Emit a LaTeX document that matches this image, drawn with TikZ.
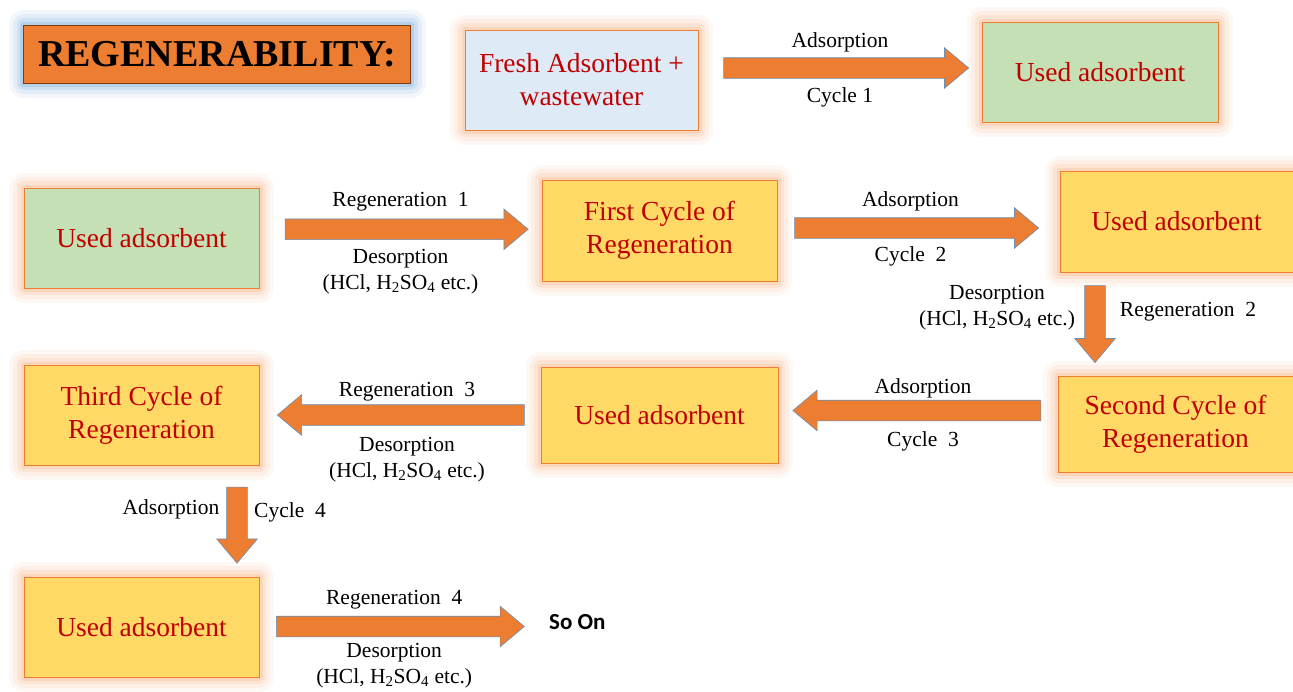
\documentclass[tikz,border=0pt]{standalone}
\usepackage{fontspec}
\setmainfont{Liberation Serif}
\newfontfamily\soonfont{Carlito}
\usetikzlibrary{shapes.arrows, positioning}

\definecolor{arrowfill}{HTML}{ED7D31}
\definecolor{arrowline}{HTML}{6A8FB5}
\definecolor{boxline}{HTML}{ED7D31}
\definecolor{gloworange}{HTML}{F7A66E}
\definecolor{glowblue}{HTML}{5B9BD5}
\definecolor{txtred}{HTML}{C00000}
\definecolor{freshfill}{HTML}{DEEBF7}
\definecolor{usedfill}{HTML}{C5E0B4}
\definecolor{cyclefill}{HTML}{FFD966}
\definecolor{titleline}{HTML}{843C0C}

\begin{document}
\begin{tikzpicture}[
    x=1pt, y=-1pt,
    glow/.style = {preaction={draw=#1, line width=30pt, opacity=0.07, line join=round},
                   preaction={draw=#1, line width=22pt, opacity=0.10, line join=round},
                   preaction={draw=#1, line width=14pt, opacity=0.15, line join=round},
                   preaction={draw=#1, line width=7pt, opacity=0.22, line join=round}},
    box/.style = {rectangle, draw=boxline, line width=0.8pt, glow=gloworange, text=txtred,
                  align=center, font=\fontsize{27.5}{33}\selectfont,
                  minimum width=235pt, minimum height=100pt, inner sep=2pt},
    titlebox/.style = {rectangle, draw=titleline, line width=0.8pt, fill=arrowfill, glow=glowblue,
                       font=\fontsize{38}{40}\selectfont\bfseries,
                       minimum width=387pt, minimum height=58pt},
    barrow/.style = {single arrow, draw=arrowline, line width=0.6pt, fill=arrowfill,
                     single arrow head extend=10pt, single arrow tip angle=80,
                     inner xsep=0pt, inner ysep=10pt, outer sep=0pt},
    lbl/.style = {inner sep=0pt, align=center, font=\fontsize{21.5}{26}\selectfont}
]
\path[use as bounding box, fill=white] (0,0) rectangle (1293,691);

% boxes
\node[titlebox] (title) at (217,54) {REGENERABILITY:};
\node[box, fill=freshfill, minimum width=233pt] (fresh) at (581.5,80) {Fresh Adsorbent +\\wastewater};
\node[box, fill=usedfill, minimum width=236pt] (usedA) at (1100,72) {Used adsorbent};
\node[box, fill=usedfill] (usedB) at (141.5,238) {Used adsorbent};
\node[box, fill=cyclefill, minimum height=101pt] (cycA) at (659.5,230.5) {First Cycle of\\Regeneration};
\node[box, fill=cyclefill, minimum width=233pt, minimum height=101pt] (usedC) at (1176.5,221.5) {Used adsorbent};
\node[box, fill=cyclefill, minimum height=96pt] (cycB) at (1175.5,424) {Second Cycle of\\Regeneration};
\node[box, fill=cyclefill, minimum width=237pt, minimum height=96pt] (usedD) at (659.5,415) {Used adsorbent};
\node[box, fill=cyclefill] (cycC) at (141.5,415) {Third Cycle of\\Regeneration};
\node[box, fill=cyclefill] (usedE) at (141.5,627) {Used adsorbent};
\node[anchor=west, inner sep=0pt, font=\soonfont\bfseries\fontsize{23}{26}\selectfont] (soon) at (549,622) {So On};

% block arrows
\path (fresh.east) -- (usedA.west) node[barrow, midway, yshift=8pt, minimum height=245pt] (arA) {};
\path (usedB.east) -- (cycA.west) node[barrow, midway, yshift=5pt, minimum height=243pt] (arB) {};
\path (cycA.east) -- (usedC.west) node[barrow, midway, xshift=-8pt, yshift=-2pt, minimum height=244pt] (arC) {};
\path ([xshift=-81.5pt]usedC.south) -- ([xshift=-80.5pt]cycB.north) node[barrow, midway, yshift=6pt, rotate=-90, minimum height=77pt] (arD) {};
\path (cycB.west) -- (usedD.east) node[barrow, midway, xshift=5pt, yshift=9pt, rotate=180, minimum height=248pt] (arE) {};
\path (usedD.west) -- (cycC.east) node[barrow, midway, xshift=7pt, rotate=180, minimum height=247pt] (arF) {};
\path ([xshift=95.5pt]cycC.south) -- ([xshift=95.5pt]usedE.north) node[barrow, midway, yshift=2pt, rotate=-90, minimum height=76pt] (arG) {};
\path (usedE.east) -- (soon.west) node[barrow, midway, xshift=-10pt, yshift=-2pt, minimum height=248pt] (arH) {};

% labels
\node[lbl] (lA1) at ([yshift=26pt]arA.center) {Adsorption};
\node[lbl] (lA2) at ([yshift=-29pt]arA.center) {Cycle\ 1};
\node[lbl] (lB1) at ([yshift=28pt]arB.center) {Regeneration\ \ 1};
\node[lbl] (lB2) at ([yshift=-42pt]arB.center) {Desorption\\(HCl, H\textsubscript{2}SO\textsubscript{4} etc.)};
\node[lbl] (lC1) at ([yshift=27pt]arC.center) {Adsorption};
\node[lbl] (lC2) at ([yshift=-28pt]arC.center) {Cycle\ \ 2};
\node[lbl] (lD1) at ([xshift=-98pt, yshift=10pt]arD.center) {Desorption\\(HCl, H\textsubscript{2}SO\textsubscript{4} etc.)};
\node[lbl] (lD2) at ([xshift=93pt, yshift=6pt]arD.center) {Regeneration\ \ 2};
\node[lbl] (lE1) at ([yshift=22pt]arE.center) {Adsorption};
\node[lbl] (lE2) at ([yshift=-31pt]arE.center) {Cycle\ \ 3};
\node[lbl] (lF1) at ([yshift=23pt]arF.center) {Regeneration\ \ 3};
\node[lbl] (lF2) at ([yshift=-45pt]arF.center) {Desorption\\(HCl, H\textsubscript{2}SO\textsubscript{4} etc.)};
\node[lbl] (lG1) at ([xshift=-66pt, yshift=10pt]arG.center) {Adsorption};
\node[lbl] (lG2) at ([xshift=53pt, yshift=7pt]arG.center) {Cycle\ \ 4};
\node[lbl] (lH1) at ([yshift=27pt]arH.center) {Regeneration\ \ 4};
\node[lbl] (lH2) at ([yshift=-39pt]arH.center) {Desorption\\(HCl, H\textsubscript{2}SO\textsubscript{4} etc.)};

\end{tikzpicture}
\end{document}
